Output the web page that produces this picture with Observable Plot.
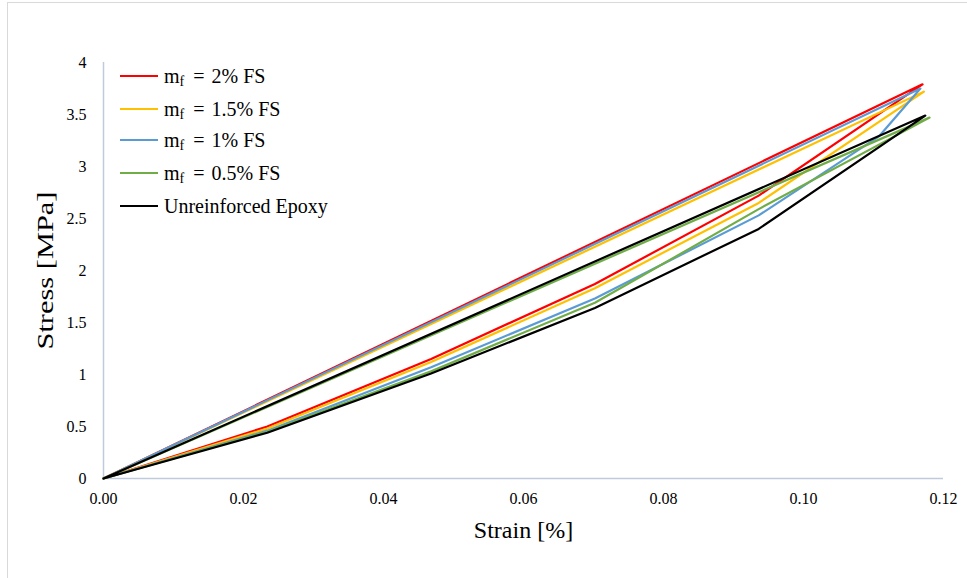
<!DOCTYPE html>
<html><head><meta charset="utf-8">
<script src="https://cdn.jsdelivr.net/npm/d3@7"></script>
<script src="https://cdn.jsdelivr.net/npm/@observablehq/plot@0.6"></script>
<style>
body{margin:0;background:#fff;}
#wrap{position:relative;width:967px;height:578px;overflow:hidden;background:#fff;}
#frame{position:absolute;left:7px;top:2px;width:980px;height:600px;border:1px solid #D9D9D9;box-sizing:border-box;pointer-events:none;}
#chart{position:absolute;left:0;top:0;}
#legend{position:absolute;left:120px;top:0;font-family:"Liberation Serif",serif;font-size:20px;color:#000;}
.row{position:absolute;left:0;height:24px;white-space:nowrap;display:flex;align-items:center;}
.sw{width:38px;height:2px;margin-right:6px;}
.eq{margin:0 7px 0 9px;}
sub{font-size:14px;vertical-align:-3px;line-height:0;}
</style></head><body>
<div id="wrap"><div id="frame"></div><div id="chart"></div><div id="legend"></div></div>
<script>
// Series names and colours
const seriesNames = ["mf = 2% FS", "mf = 1.5% FS", "mf = 1% FS", "mf = 0.5% FS", "Unreinforced Epoxy"];
const seriesColors = ["#FF0000", "#FFC000", "#5B9BD5", "#70AD47", "#000000"];

// Loading curve followed by unloading back to origin
const strain_2   = [0, 0.0234, 0.0468, 0.0702, 0.0936, 0.1170, 0];
const stress_2   = [0, 0.50,   1.15,   1.87,   2.72,   3.79,   0];
const strain_1_5 = [0, 0.0234, 0.0468, 0.0702, 0.0936, 0.1172, 0];
const stress_1_5 = [0, 0.48,   1.12,   1.83,   2.65,   3.72,   0];
const strain_1   = [0, 0.0234, 0.0468, 0.0702, 0.0936, 0.1108, 0.1167, 0];
const stress_1   = [0, 0.46,   1.07,   1.73,   2.53,   3.29,   3.75,   0];
const strain_0_5 = [0, 0.0234, 0.0468, 0.0702, 0.0936, 0.1180, 0];
const stress_0_5 = [0, 0.45,   1.03,   1.69,   2.59,   3.47,   0];
const strain_ep  = [0, 0.0234, 0.0468, 0.0702, 0.0936, 0.1174, 0];
const stress_ep  = [0, 0.44,   1.01,   1.64,   2.40,   3.49,   0];

const xTicks = [0, 0.02, 0.04, 0.06, 0.08, 0.10, 0.12];
const yTicks = [0, 0.5, 1, 1.5, 2, 2.5, 3, 3.5, 4];

const strains = [strain_2, strain_1_5, strain_1, strain_0_5, strain_ep];
const stresses = [stress_2, stress_1_5, stress_1, stress_0_5, stress_ep];
const data = [];
seriesNames.forEach((name, i) => {
  strains[i].forEach((s, j) => data.push({series: name, strain: s, stress: stresses[i][j]}));
});

const serif = "Liberation Serif, serif";
const axisColor = "#BFCBDA";
const chart = Plot.plot({
  width: 967, height: 578,
  marginLeft: 103, marginRight: 24, marginTop: 62, marginBottom: 100,
  style: {fontFamily: serif, fontSize: "16px", color: "#000", background: "transparent"},
  x: {domain: [0, 0.12]},
  y: {domain: [0, 4]},
  color: {domain: seriesNames, range: seriesColors},
  marks: [
    Plot.ruleY([0], {stroke: axisColor, strokeWidth: 1.5}),
    Plot.ruleX([0], {stroke: axisColor, strokeWidth: 1.5}),
    Plot.line(data, {x: "strain", y: "stress", z: "series", stroke: "series", strokeWidth: 2.2, curve: "linear"}),
    Plot.axisX(xTicks, {tickSize: 0, tickPadding: 14, tickFormat: d3.format(".2f"), label: null, fontSize: 16, fontFamily: serif}),
    Plot.axisY(yTicks, {tickSize: 0, tickPadding: 17, tickFormat: d => String(d), label: null, fontSize: 16, fontFamily: serif}),
    Plot.text(["Strain [%]"], {frameAnchor: "bottom", lineAnchor: "middle", textAnchor: "middle", dy: 52, fontSize: 24, fontFamily: serif, text: d => d}),
    Plot.text(["Stress [MPa]"], {frameAnchor: "left", lineAnchor: "middle", textAnchor: "middle", dx: -58, rotate: -90, fontSize: 24, fontFamily: serif, text: d => d, className: "ytitle"})
  ]
});
document.getElementById("chart").appendChild(chart);
// stretch y title to the reference's length
chart.querySelectorAll("text").forEach(t => {
  if (t.textContent === "Stress [MPa]") {
    t.setAttribute("textLength", "158");
    t.setAttribute("lengthAdjust", "spacingAndGlyphs");
  }
});

// Legend
const legendCenters = [76, 109, 140, 173, 206];
const legendHtml = [
  "m<sub>f</sub><span class='eq'>=</span>2% FS",
  "m<sub>f</sub><span class='eq'>=</span>1.5% FS",
  "m<sub>f</sub><span class='eq'>=</span>1% FS",
  "m<sub>f</sub><span class='eq'>=</span>0.5% FS",
  "Unreinforced Epoxy"];
const legend = document.getElementById("legend");
seriesNames.forEach((n, i) => {
  const row = document.createElement("div");
  row.className = "row";
  row.style.top = (legendCenters[i] - 12) + "px";
  row.innerHTML = `<span class="sw" style="background:${seriesColors[i]}"></span><span>${legendHtml[i]}</span>`;
  legend.appendChild(row);
});
</script>
</body></html>
